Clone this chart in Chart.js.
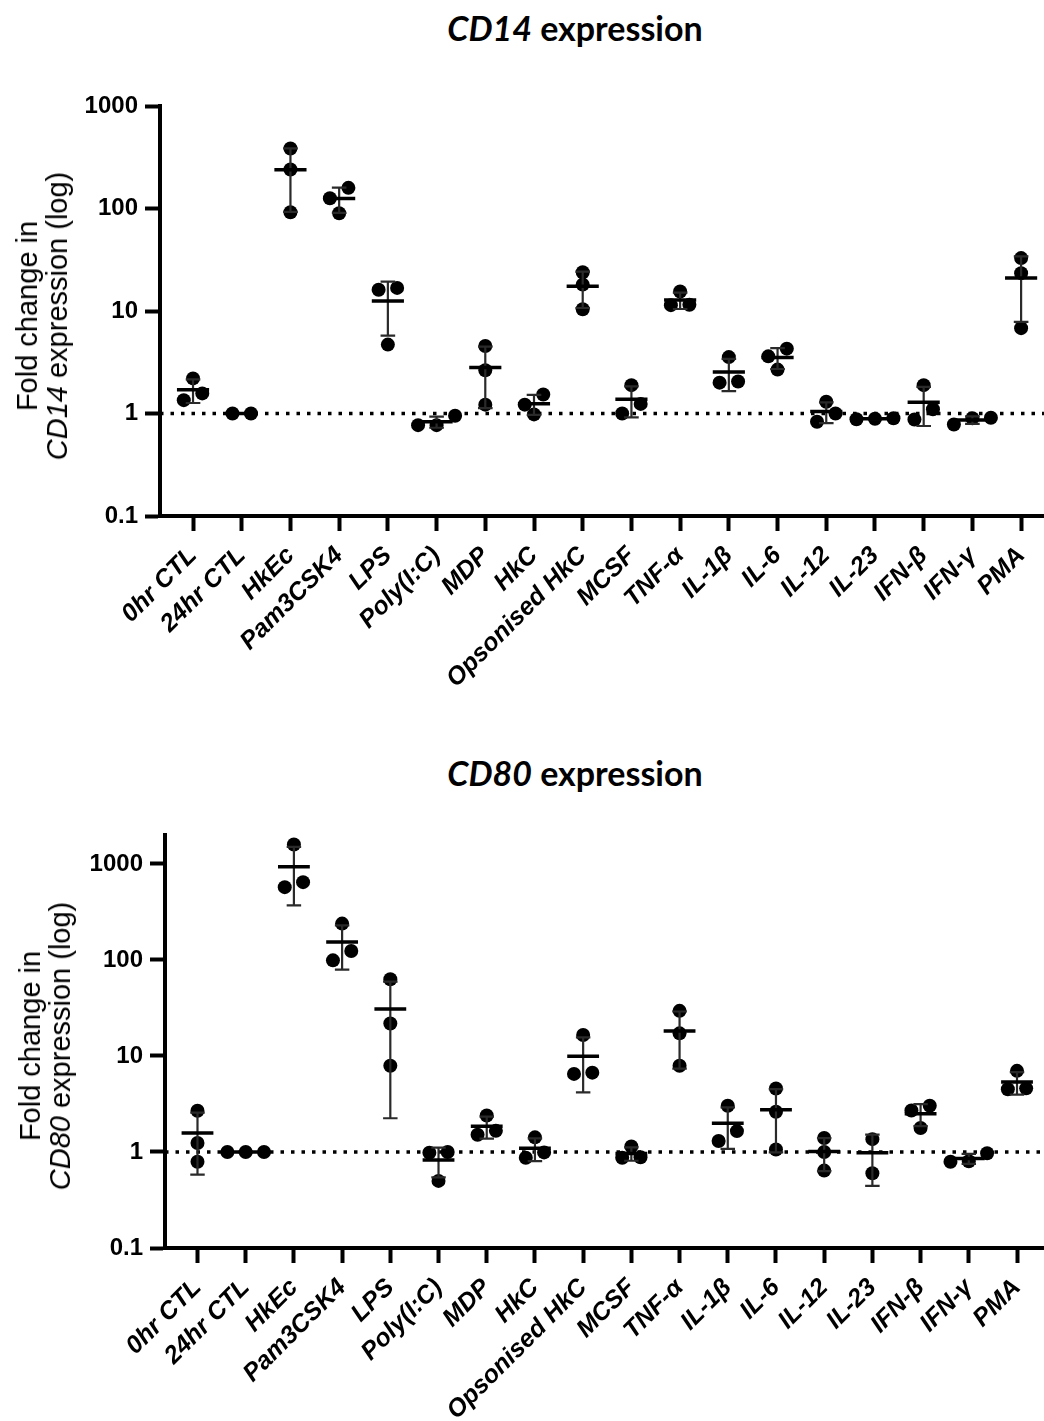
<!DOCTYPE html>
<html>
<head>
<meta charset="utf-8">
<title>CD14 and CD80 expression</title>
<script src="https://cdn.jsdelivr.net/npm/chart.js@4.4.1/dist/chart.umd.min.js"></script>
<style>
  body { margin: 0; background: #fff; width: 1044px; height: 1421px; position: relative; overflow: hidden; }
  .panel { position: absolute; left: 0; width: 1044px; }
  .title { position: absolute; left: 575px; transform: translateX(-50%); font-family: Lato, 'Open Sans', sans-serif; font-weight: 700; font-size: 34px; line-height: 1; white-space: nowrap; }
  .ytitle { position: absolute; transform: translate(-50%, -50%) rotate(-90deg); font-family: 'Liberation Sans', Arial, sans-serif; font-size: 29px; line-height: 30px; text-align: center; white-space: nowrap; }
</style>
</head>
<body>
<div class="title" style="top:11px"><i>CD14</i> expression</div>
<div class="panel" style="top:0; height:745px"><canvas id="cd14Chart"></canvas></div>
<div class="ytitle" style="left:42px; top:316px">Fold change in<br><i>CD14</i> expression (log)</div>

<div class="title" style="top:756px"><i>CD80</i> expression</div>
<div class="panel" style="top:745px; height:676px"><canvas id="cd80Chart"></canvas></div>
<div class="ytitle" style="left:45px; top:1046px">Fold change in<br><i>CD80</i> expression (log)</div>

<script>
const categories = ['0hr CTL', '24hr CTL', 'HkEc', 'Pam3CSK4', 'LPS', 'Poly(I:C)', 'MDP', 'HkC',
    'Opsonised HkC', 'MCSF', 'TNF-α', 'IL-1β', 'IL-6', 'IL-12', 'IL-23', 'IFN-β', 'IFN-γ', 'PMA'];

const yTicks = [0.1, 1, 10, 100, 1000];

// fold change, one list of replicates per stimulus
const cd14Values = [
    [2.2, 1.57, 1.35],
    [1.0, 1.0],
    [385, 240, 92],
    [159, 126, 90],
    [16.8, 16.1, 4.7],
    [0.95, 0.77, 0.77],
    [4.56, 2.64, 1.22],
    [1.53, 1.22, 0.98],
    [23.9, 18.1, 10.4],
    [1.89, 1.24, 1.0],
    [15.5, 11.5, 11.4],
    [3.55, 2.05, 2.0],
    [4.29, 3.61, 2.68],
    [1.30, 1.0, 0.83],
    [0.9, 0.89, 0.88],
    [1.89, 1.10, 0.875],
    [0.91, 0.9, 0.78],
    [32.8, 23.4, 6.8]
];

const cd80Values = [
    [2.69, 1.24, 0.79],
    [1.0, 1.0, 1.0],
    [1590, 646, 573],
    [239, 124, 99],
    [63, 21.8, 7.9],
    [1.0, 0.98, 0.5],
    [2.40, 1.66, 1.51],
    [1.42, 0.99, 0.87],
    [16.5, 6.7, 6.5],
    [1.14, 0.88, 0.87],
    [29.5, 17.2, 7.9],
    [3.03, 1.65, 1.30],
    [4.58, 2.62, 1.06],
    [1.40, 1.0, 0.64],
    [1.36, 0.6],
    [3.03, 2.70, 1.78],
    [0.97, 0.8, 0.79],
    [7.0, 4.6, 4.5]
];

function mean(a) {
    return a.reduce((s, v) => s + v, 0) / a.length;
}

function sd(a) {
    const m = mean(a);
    return Math.sqrt(a.reduce((s, v) => s + (v - m) * (v - m), 0) / (a.length - 1));
}

// put dots that would overlap side by side (rough version of Prism's scatter layout)
function spreadOffsets(vals, decadePx) {
    const order = vals.map((v, i) => i).sort((a, b) => vals[b] - vals[a]);
    const rows = [];
    order.forEach(i => {
        const y = Math.log10(vals[i]) * decadePx;
        const row = rows[rows.length - 1];
        if (row && row.y0 - y < 10.6) row.idx.push(i);
        else rows.push({ y0: y, idx: [i] });
    });
    const off = new Array(vals.length).fill(0);
    rows.forEach(r => {
        r.idx.sort((a, b) => vals[a] - vals[b]);
        r.idx.forEach((i, k) => off[i] = (k - (r.idx.length - 1) / 2) * 0.38);
    });
    return off;
}

const tickFont = { family: "'Liberation Sans', Arial, sans-serif", weight: 'bold', size: 24 };
const catFont = { family: "'Liberation Sans', Arial, sans-serif", weight: 'bold', style: 'italic', size: 25 };

function makeChart(canvasId, values, opts) {
    const points = [], bars = [], whiskers = [];
    values.forEach((vals, i) => {
        const off = spreadOffsets(vals, opts.decadePx);
        vals.forEach((v, k) => points.push({ x: i + off[k], y: v }));
        const m = mean(vals), s = sd(vals);
        bars.push({ x: i - 0.33, y: m }, { x: i + 0.33, y: m }, { x: i, y: null });
        whiskers.push(
            { x: i, y: m - s }, { x: i, y: m + s }, { x: i, y: null },
            { x: i - 0.15, y: m - s }, { x: i + 0.15, y: m - s }, { x: i, y: null },
            { x: i - 0.15, y: m + s }, { x: i + 0.15, y: m + s }, { x: i, y: null }
        );
    });

    return new Chart(document.getElementById(canvasId), {
        type: 'scatter',
        data: {
            datasets: [
                { data: bars, showLine: true, spanGaps: false, borderColor: '#000', borderWidth: 3.5, pointRadius: 0, order: 0 },
                { data: whiskers, showLine: true, spanGaps: false, borderColor: '#2a2a2a', borderWidth: 2.2, pointRadius: 0, order: 1 },
                { data: points, pointRadius: 7, pointHoverRadius: 7, pointBackgroundColor: '#000', pointBorderWidth: 0, order: 2 },
                {
                    data: [{ x: opts.xMin, y: 1 }, { x: opts.xMax, y: 1 }],
                    showLine: true, borderColor: '#000', borderWidth: 3.5, borderDash: [3.5, 7], pointRadius: 0, order: 3
                }
            ]
        },
        options: {
            responsive: true,
            maintainAspectRatio: false,
            animation: false,
            layout: { autoPadding: false, padding: { top: opts.padTop, left: 0, right: 0, bottom: 0 } },
            plugins: {
                legend: { display: false },
                tooltip: { enabled: false }
            },
            scales: {
                x: {
                    type: 'linear',
                    min: opts.xMin,
                    max: opts.xMax,
                    afterBuildTicks: s => { s.ticks = categories.map((c, i) => ({ value: i })); },
                    afterFit: s => { s.height = opts.xHeight; s.paddingLeft = 0; s.paddingRight = 0; },
                    ticks: {
                        autoSkip: false, minRotation: 45, maxRotation: 45, padding: 10,
                        color: '#000', font: catFont,
                        callback: v => categories[v]
                    },
                    grid: { drawOnChartArea: false, drawTicks: true, tickLength: 15, tickWidth: 4, tickColor: '#000' },
                    border: { color: '#000', width: 4 }
                },
                y: {
                    type: 'logarithmic',
                    min: 0.1,
                    max: opts.yMax,
                    afterBuildTicks: s => { s.ticks = yTicks.map(v => ({ value: v })); },
                    afterFit: s => { s.width = opts.yWidth; },
                    ticks: { padding: 7, color: '#000', font: tickFont, callback: v => String(v) },
                    grid: { drawOnChartArea: false, drawTicks: true, tickLength: 15, tickWidth: 4, tickColor: '#000' },
                    border: { color: '#000', width: 4 }
                }
            }
        }
    });
}

makeChart('cd14Chart', cd14Values, {
    xMin: -0.678, xMax: 17.47, yMax: 1000, padTop: 106, xHeight: 229, yWidth: 160, decadePx: 102.75
});
makeChart('cd80Chart', cd80Values, {
    xMin: -0.674, xMax: 17.56, yMax: 2000, padTop: 90, xHeight: 173, yWidth: 165, decadePx: 96
});
</script>
</body>
</html>
